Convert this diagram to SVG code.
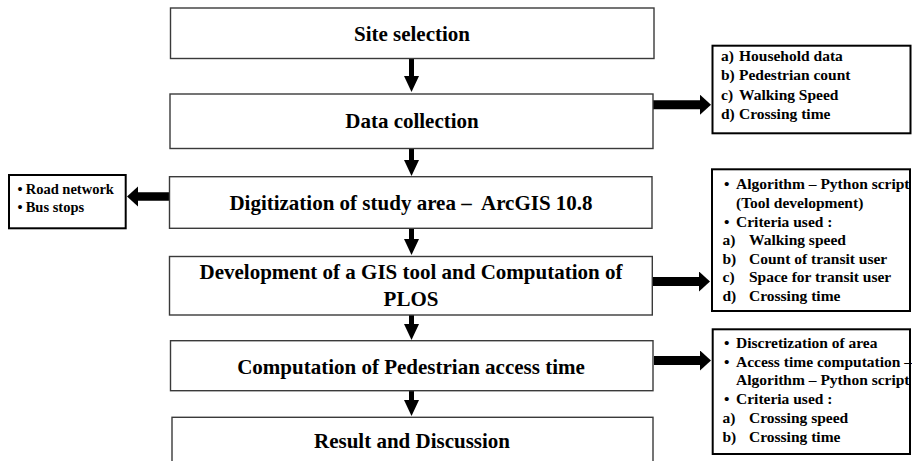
<svg xmlns="http://www.w3.org/2000/svg" width="912" height="461" viewBox="0 0 912 461">
  <style>
    .step { fill: #ffffff; stroke: #3a3a3a; stroke-width: 1.4; }
    .note { fill: #ffffff; stroke: #000000; stroke-width: 2; }
    text { font-family: 'Liberation Serif', 'DejaVu Serif', serif; font-weight: bold; fill: #000; }
    .main { font-size: 21px; text-anchor: middle; }
    .list { font-size: 15.5px; }
    .small { font-size: 14.5px; }
    .flow { stroke: #000; stroke-width: 5; fill: none; }
    .side { stroke: #000; stroke-width: 9; fill: none; }
  </style>
  <defs>
    <marker id="head-v" markerUnits="userSpaceOnUse" markerWidth="17" markerHeight="16" refX="1" refY="8" orient="auto">
      <path d="M0,0.5 L16,8 L0,15.5 z" fill="#000"/>
    </marker>
    <marker id="head-h" markerUnits="userSpaceOnUse" markerWidth="12" markerHeight="21" refX="1" refY="10" orient="auto">
      <path d="M0,0 L11,10 L0,20 z" fill="#000"/>
    </marker>
  </defs>

  <!-- connectors -->
  <g id="connectors">
    <path class="flow" d="M411.5,58.5 V77" marker-end="url(#head-v)"/>
    <path class="flow" d="M411.5,148.5 V161" marker-end="url(#head-v)"/>
    <path class="flow" d="M411.5,228.5 V240" marker-end="url(#head-v)"/>
    <path class="flow" d="M411.5,315 V325" marker-end="url(#head-v)"/>
    <path class="flow" d="M411.5,390.7 V401" marker-end="url(#head-v)"/>
    <path class="side" d="M653,104.7 H701" marker-end="url(#head-h)"/>
    <path class="side" d="M652,281.5 H700" marker-end="url(#head-h)"/>
    <path class="side" d="M654,360.5 H701" marker-end="url(#head-h)"/>
    <path style="stroke:#000;stroke-width:8.5;fill:none" d="M170,196.5 H137" marker-end="url(#head-h)"/>
  </g>

  <!-- main process steps -->
  <g id="site-selection">
    <rect class="step" x="170.5" y="8" width="483.5" height="50.5"/>
    <text class="main" x="412" y="40.7" font-family="Liberation Serif, serif">Site selection</text>
  </g>
  <g id="data-collection">
    <rect class="step" x="170" y="94" width="483" height="54.5"/>
    <text class="main" x="412" y="128.3">Data collection</text>
  </g>
  <g id="digitization">
    <rect class="step" x="169.5" y="176.7" width="482.5" height="51.6"/>
    <text class="main" x="411" y="210" xml:space="preserve">Digitization of study area –  ArcGIS 10.8</text>
  </g>
  <g id="gis-tool">
    <rect class="step" x="169.5" y="256.5" width="482.8" height="58.5"/>
    <text class="main" x="411" y="279.3">Development of a GIS tool and Computation of</text>
    <text class="main" x="411" y="305.7">PLOS</text>
  </g>
  <g id="access-time">
    <rect class="step" x="170.5" y="340.7" width="482.5" height="50"/>
    <text class="main" x="411" y="374">Computation of Pedestrian access time</text>
  </g>
  <g id="result">
    <rect class="step" x="172" y="417.3" width="481" height="60"/>
    <text class="main" x="412" y="448.3">Result and Discussion</text>
  </g>

  <!-- side notes -->
  <g id="data-items">
    <rect class="note" x="712.5" y="45.7" width="198" height="87.6"/>
    <text class="list">
      <tspan x="721" y="60.5">a)</tspan><tspan x="739" y="60.5">Household data</tspan>
      <tspan x="721" y="80">b)</tspan><tspan x="739" y="80">Pedestrian count</tspan>
      <tspan x="721" y="99.7">c)</tspan><tspan x="739" y="99.7">Walking Speed</tspan>
      <tspan x="721" y="119.3">d)</tspan><tspan x="739" y="119.3">Crossing time</tspan>
    </text>
  </g>
  <g id="map-layers">
    <rect class="note" x="9" y="175" width="116.7" height="53.3"/>
    <text class="small">
      <tspan x="17.5" y="194.3">•</tspan><tspan x="25.7" y="194.3">Road network</tspan>
      <tspan x="17.5" y="211.7">•</tspan><tspan x="25.7" y="211.7">Bus stops</tspan>
    </text>
  </g>
  <g id="tool-items">
    <rect class="note" x="712" y="169.3" width="198" height="141.7"/>
    <text class="list">
      <tspan x="724" y="189.3">•</tspan><tspan x="736" y="189.3">Algorithm – Python script</tspan>
      <tspan x="736" y="208">(Tool development)</tspan>
      <tspan x="724" y="226.5">•</tspan><tspan x="736" y="226.5">Criteria used :</tspan>
      <tspan x="722.5" y="245">a)</tspan><tspan x="749" y="245">Walking speed</tspan>
      <tspan x="722.5" y="263.5">b)</tspan><tspan x="749" y="263.5">Count of transit user</tspan>
      <tspan x="722.5" y="282">c)</tspan><tspan x="749" y="282">Space for transit user</tspan>
      <tspan x="722.5" y="300.5">d)</tspan><tspan x="749" y="300.5">Crossing time</tspan>
    </text>
  </g>
  <g id="access-items">
    <rect class="note" x="712.7" y="329.3" width="197.3" height="124.7"/>
    <text class="list">
      <tspan x="724" y="348">•</tspan><tspan x="736" y="348">Discretization of area</tspan>
      <tspan x="724" y="366.5">•</tspan><tspan x="736" y="366.5">Access time computation –</tspan>
      <tspan x="736" y="385">Algorithm – Python script</tspan>
      <tspan x="724" y="404">•</tspan><tspan x="736" y="404">Criteria used :</tspan>
      <tspan x="722.5" y="423">a)</tspan><tspan x="749" y="423">Crossing speed</tspan>
      <tspan x="722.5" y="441.5">b)</tspan><tspan x="749" y="441.5">Crossing time</tspan>
    </text>
  </g>
</svg>
